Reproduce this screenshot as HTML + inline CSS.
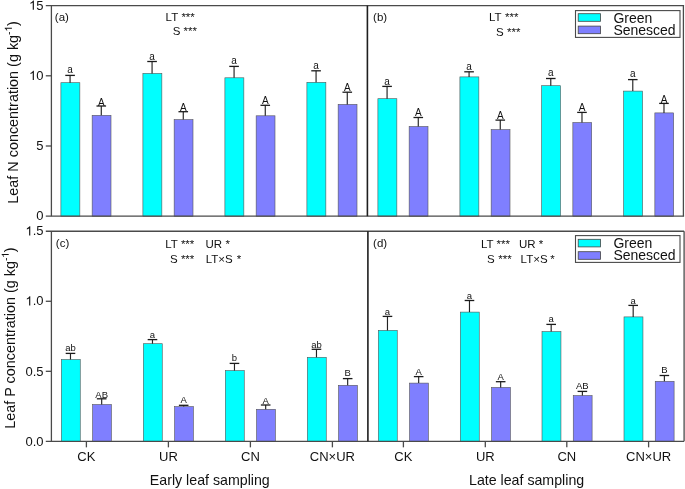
<!DOCTYPE html>
<html><head><meta charset="utf-8"><style>
html,body{margin:0;padding:0;background:#fff;}
body{width:685px;height:489px;overflow:hidden;font-family:"Liberation Sans",sans-serif;}
svg{display:block;will-change:transform;}
</style></head><body>
<svg width="685" height="489" viewBox="0 0 685 489">
<rect width="685" height="489" fill="#ffffff"/>
<g font-family="Liberation Sans, sans-serif" fill="#111">
<rect x="60.90" y="82.70" width="18.95" height="133.50" fill="#00ffff" stroke="#555" stroke-width="0.6"/>
<line x1="70.08" y1="75.4" x2="70.08" y2="82.7" stroke="#222" stroke-width="1.15"/>
<line x1="65.28" y1="75.4" x2="74.88" y2="75.4" stroke="#1a1a1a" stroke-width="1.3"/>
<text transform="translate(70.08,72.9) scale(1.0,1)" font-size="10" text-anchor="middle">a</text>
<rect x="92.15" y="115.30" width="18.85" height="100.90" fill="#7f7fff" stroke="#555" stroke-width="0.6"/>
<line x1="101.28" y1="106.0" x2="101.28" y2="115.3" stroke="#222" stroke-width="1.15"/>
<line x1="96.48" y1="106.0" x2="106.08" y2="106.0" stroke="#1a1a1a" stroke-width="1.3"/>
<text transform="translate(101.28,105.6) scale(1.0,1)" font-size="10" text-anchor="middle">A</text>
<rect x="142.90" y="73.40" width="18.95" height="142.80" fill="#00ffff" stroke="#555" stroke-width="0.6"/>
<line x1="152.07" y1="61.5" x2="152.07" y2="73.4" stroke="#222" stroke-width="1.15"/>
<line x1="147.27" y1="61.5" x2="156.88" y2="61.5" stroke="#1a1a1a" stroke-width="1.3"/>
<text transform="translate(152.07,60.0) scale(1.0,1)" font-size="10" text-anchor="middle">a</text>
<rect x="174.15" y="119.60" width="18.85" height="96.60" fill="#7f7fff" stroke="#555" stroke-width="0.6"/>
<line x1="183.27" y1="111.7" x2="183.27" y2="119.6" stroke="#222" stroke-width="1.15"/>
<line x1="178.47" y1="111.7" x2="188.07" y2="111.7" stroke="#1a1a1a" stroke-width="1.3"/>
<text transform="translate(183.27,111.0) scale(1.0,1)" font-size="10" text-anchor="middle">A</text>
<rect x="224.90" y="77.80" width="18.95" height="138.40" fill="#00ffff" stroke="#555" stroke-width="0.6"/>
<line x1="234.07" y1="66.4" x2="234.07" y2="77.8" stroke="#222" stroke-width="1.15"/>
<line x1="229.27" y1="66.4" x2="238.88" y2="66.4" stroke="#1a1a1a" stroke-width="1.3"/>
<text transform="translate(234.07,64.2) scale(1.0,1)" font-size="10" text-anchor="middle">a</text>
<rect x="256.15" y="115.80" width="18.85" height="100.40" fill="#7f7fff" stroke="#555" stroke-width="0.6"/>
<line x1="265.27" y1="105.3" x2="265.27" y2="115.8" stroke="#222" stroke-width="1.15"/>
<line x1="260.47" y1="105.3" x2="270.07" y2="105.3" stroke="#1a1a1a" stroke-width="1.3"/>
<text transform="translate(265.27,104.3) scale(1.0,1)" font-size="10" text-anchor="middle">A</text>
<rect x="306.90" y="82.30" width="18.95" height="133.90" fill="#00ffff" stroke="#555" stroke-width="0.6"/>
<line x1="316.07" y1="70.8" x2="316.07" y2="82.3" stroke="#222" stroke-width="1.15"/>
<line x1="311.27" y1="70.8" x2="320.88" y2="70.8" stroke="#1a1a1a" stroke-width="1.3"/>
<text transform="translate(316.07,68.6) scale(1.0,1)" font-size="10" text-anchor="middle">a</text>
<rect x="338.15" y="104.40" width="18.85" height="111.80" fill="#7f7fff" stroke="#555" stroke-width="0.6"/>
<line x1="347.27" y1="92.2" x2="347.27" y2="104.4" stroke="#222" stroke-width="1.15"/>
<line x1="342.47" y1="92.2" x2="352.07" y2="92.2" stroke="#1a1a1a" stroke-width="1.3"/>
<text transform="translate(347.27,91.0) scale(1.0,1)" font-size="10" text-anchor="middle">A</text>
<rect x="377.90" y="98.70" width="18.95" height="117.50" fill="#00ffff" stroke="#555" stroke-width="0.6"/>
<line x1="387.07" y1="86.4" x2="387.07" y2="98.7" stroke="#222" stroke-width="1.15"/>
<line x1="382.27" y1="86.4" x2="391.88" y2="86.4" stroke="#1a1a1a" stroke-width="1.3"/>
<text transform="translate(387.07,84.6) scale(1.0,1)" font-size="10" text-anchor="middle">a</text>
<rect x="409.15" y="126.50" width="18.85" height="89.70" fill="#7f7fff" stroke="#555" stroke-width="0.6"/>
<line x1="418.27" y1="117.5" x2="418.27" y2="126.5" stroke="#222" stroke-width="1.15"/>
<line x1="413.47" y1="117.5" x2="423.07" y2="117.5" stroke="#1a1a1a" stroke-width="1.3"/>
<text transform="translate(418.27,116.3) scale(1.0,1)" font-size="10" text-anchor="middle">A</text>
<rect x="459.90" y="76.90" width="18.95" height="139.30" fill="#00ffff" stroke="#555" stroke-width="0.6"/>
<line x1="469.07" y1="71.8" x2="469.07" y2="76.9" stroke="#222" stroke-width="1.15"/>
<line x1="464.27" y1="71.8" x2="473.88" y2="71.8" stroke="#1a1a1a" stroke-width="1.3"/>
<text transform="translate(469.07,70.0) scale(1.0,1)" font-size="10" text-anchor="middle">a</text>
<rect x="491.15" y="129.60" width="18.85" height="86.60" fill="#7f7fff" stroke="#555" stroke-width="0.6"/>
<line x1="500.27" y1="120.1" x2="500.27" y2="129.6" stroke="#222" stroke-width="1.15"/>
<line x1="495.47" y1="120.1" x2="505.07" y2="120.1" stroke="#1a1a1a" stroke-width="1.3"/>
<text transform="translate(500.27,118.8) scale(1.0,1)" font-size="10" text-anchor="middle">A</text>
<rect x="541.60" y="85.70" width="18.95" height="130.50" fill="#00ffff" stroke="#555" stroke-width="0.6"/>
<line x1="550.78" y1="78.5" x2="550.78" y2="85.7" stroke="#222" stroke-width="1.15"/>
<line x1="545.98" y1="78.5" x2="555.58" y2="78.5" stroke="#1a1a1a" stroke-width="1.3"/>
<text transform="translate(550.78,76.3) scale(1.0,1)" font-size="10" text-anchor="middle">a</text>
<rect x="572.85" y="122.50" width="18.85" height="93.70" fill="#7f7fff" stroke="#555" stroke-width="0.6"/>
<line x1="581.98" y1="112.4" x2="581.98" y2="122.5" stroke="#222" stroke-width="1.15"/>
<line x1="577.18" y1="112.4" x2="586.78" y2="112.4" stroke="#1a1a1a" stroke-width="1.3"/>
<text transform="translate(581.98,111.0) scale(1.0,1)" font-size="10" text-anchor="middle">A</text>
<rect x="623.60" y="91.10" width="18.95" height="125.10" fill="#00ffff" stroke="#555" stroke-width="0.6"/>
<line x1="632.78" y1="79.6" x2="632.78" y2="91.1" stroke="#222" stroke-width="1.15"/>
<line x1="627.98" y1="79.6" x2="637.58" y2="79.6" stroke="#1a1a1a" stroke-width="1.3"/>
<text transform="translate(632.78,77.4) scale(1.0,1)" font-size="10" text-anchor="middle">a</text>
<rect x="654.85" y="112.90" width="18.85" height="103.30" fill="#7f7fff" stroke="#555" stroke-width="0.6"/>
<line x1="663.98" y1="103.4" x2="663.98" y2="112.9" stroke="#222" stroke-width="1.15"/>
<line x1="659.18" y1="103.4" x2="668.78" y2="103.4" stroke="#1a1a1a" stroke-width="1.3"/>
<text transform="translate(663.98,102.5) scale(1.0,1)" font-size="10" text-anchor="middle">A</text>
<rect x="61.30" y="359.50" width="18.95" height="81.85" fill="#00ffff" stroke="#555" stroke-width="0.6"/>
<line x1="70.48" y1="353.4" x2="70.48" y2="359.5" stroke="#222" stroke-width="1.15"/>
<line x1="65.68" y1="353.4" x2="75.28" y2="353.4" stroke="#1a1a1a" stroke-width="1.3"/>
<text transform="translate(70.48,351.2) scale(1.0,1)" font-size="9.5" text-anchor="middle">ab</text>
<rect x="92.55" y="404.50" width="18.85" height="36.85" fill="#7f7fff" stroke="#555" stroke-width="0.6"/>
<line x1="101.68" y1="398.8" x2="101.68" y2="404.5" stroke="#222" stroke-width="1.15"/>
<line x1="96.88" y1="398.8" x2="106.48" y2="398.8" stroke="#1a1a1a" stroke-width="1.3"/>
<text transform="translate(101.68,397.6) scale(1.0,1)" font-size="9.5" text-anchor="middle">AB</text>
<rect x="143.30" y="343.70" width="18.95" height="97.65" fill="#00ffff" stroke="#555" stroke-width="0.6"/>
<line x1="152.47" y1="339.6" x2="152.47" y2="343.7" stroke="#222" stroke-width="1.15"/>
<line x1="147.67" y1="339.6" x2="157.28" y2="339.6" stroke="#1a1a1a" stroke-width="1.3"/>
<text transform="translate(152.47,337.9) scale(1.0,1)" font-size="9.5" text-anchor="middle">a</text>
<rect x="174.55" y="406.60" width="18.85" height="34.75" fill="#7f7fff" stroke="#555" stroke-width="0.6"/>
<line x1="183.68" y1="405.3" x2="183.68" y2="406.6" stroke="#222" stroke-width="1.15"/>
<line x1="178.88" y1="405.3" x2="188.48" y2="405.3" stroke="#1a1a1a" stroke-width="1.3"/>
<text transform="translate(183.68,402.9) scale(1.0,1)" font-size="9.5" text-anchor="middle">A</text>
<rect x="225.30" y="370.60" width="18.95" height="70.75" fill="#00ffff" stroke="#555" stroke-width="0.6"/>
<line x1="234.47" y1="363.4" x2="234.47" y2="370.6" stroke="#222" stroke-width="1.15"/>
<line x1="229.67" y1="363.4" x2="239.28" y2="363.4" stroke="#1a1a1a" stroke-width="1.3"/>
<text transform="translate(234.47,361.4) scale(1.0,1)" font-size="9.5" text-anchor="middle">b</text>
<rect x="256.55" y="409.30" width="18.85" height="32.05" fill="#7f7fff" stroke="#555" stroke-width="0.6"/>
<line x1="265.68" y1="405.0" x2="265.68" y2="409.3" stroke="#222" stroke-width="1.15"/>
<line x1="260.88" y1="405.0" x2="270.48" y2="405.0" stroke="#1a1a1a" stroke-width="1.3"/>
<text transform="translate(265.68,403.6) scale(1.0,1)" font-size="9.5" text-anchor="middle">A</text>
<rect x="307.30" y="357.30" width="18.95" height="84.05" fill="#00ffff" stroke="#555" stroke-width="0.6"/>
<line x1="316.47" y1="349.3" x2="316.47" y2="357.3" stroke="#222" stroke-width="1.15"/>
<line x1="311.67" y1="349.3" x2="321.27" y2="349.3" stroke="#1a1a1a" stroke-width="1.3"/>
<text transform="translate(316.47,347.7) scale(1.0,1)" font-size="9.5" text-anchor="middle">ab</text>
<rect x="338.55" y="385.30" width="18.85" height="56.05" fill="#7f7fff" stroke="#555" stroke-width="0.6"/>
<line x1="347.67" y1="378.6" x2="347.67" y2="385.3" stroke="#222" stroke-width="1.15"/>
<line x1="342.87" y1="378.6" x2="352.47" y2="378.6" stroke="#1a1a1a" stroke-width="1.3"/>
<text transform="translate(347.67,376.4) scale(1.0,1)" font-size="9.5" text-anchor="middle">B</text>
<rect x="378.30" y="330.40" width="18.95" height="110.95" fill="#00ffff" stroke="#555" stroke-width="0.6"/>
<line x1="387.47" y1="316.4" x2="387.47" y2="330.4" stroke="#222" stroke-width="1.15"/>
<line x1="382.67" y1="316.4" x2="392.27" y2="316.4" stroke="#1a1a1a" stroke-width="1.3"/>
<text transform="translate(387.47,314.8) scale(1.0,1)" font-size="9.5" text-anchor="middle">a</text>
<rect x="409.55" y="383.10" width="18.85" height="58.25" fill="#7f7fff" stroke="#555" stroke-width="0.6"/>
<line x1="418.67" y1="376.6" x2="418.67" y2="383.1" stroke="#222" stroke-width="1.15"/>
<line x1="413.87" y1="376.6" x2="423.47" y2="376.6" stroke="#1a1a1a" stroke-width="1.3"/>
<text transform="translate(418.67,374.5) scale(1.0,1)" font-size="9.5" text-anchor="middle">A</text>
<rect x="460.30" y="312.10" width="18.95" height="129.25" fill="#00ffff" stroke="#555" stroke-width="0.6"/>
<line x1="469.47" y1="300.5" x2="469.47" y2="312.1" stroke="#222" stroke-width="1.15"/>
<line x1="464.67" y1="300.5" x2="474.27" y2="300.5" stroke="#1a1a1a" stroke-width="1.3"/>
<text transform="translate(469.47,298.8) scale(1.0,1)" font-size="9.5" text-anchor="middle">a</text>
<rect x="491.55" y="387.40" width="18.85" height="53.95" fill="#7f7fff" stroke="#555" stroke-width="0.6"/>
<line x1="500.67" y1="381.7" x2="500.67" y2="387.4" stroke="#222" stroke-width="1.15"/>
<line x1="495.87" y1="381.7" x2="505.47" y2="381.7" stroke="#1a1a1a" stroke-width="1.3"/>
<text transform="translate(500.67,379.6) scale(1.0,1)" font-size="9.5" text-anchor="middle">A</text>
<rect x="542.00" y="331.60" width="18.95" height="109.75" fill="#00ffff" stroke="#555" stroke-width="0.6"/>
<line x1="551.18" y1="324.4" x2="551.18" y2="331.6" stroke="#222" stroke-width="1.15"/>
<line x1="546.38" y1="324.4" x2="555.98" y2="324.4" stroke="#1a1a1a" stroke-width="1.3"/>
<text transform="translate(551.18,322.2) scale(1.0,1)" font-size="9.5" text-anchor="middle">a</text>
<rect x="573.25" y="395.60" width="18.85" height="45.75" fill="#7f7fff" stroke="#555" stroke-width="0.6"/>
<line x1="582.38" y1="391.4" x2="582.38" y2="395.6" stroke="#222" stroke-width="1.15"/>
<line x1="577.58" y1="391.4" x2="587.17" y2="391.4" stroke="#1a1a1a" stroke-width="1.3"/>
<text transform="translate(582.38,388.7) scale(1.0,1)" font-size="9.5" text-anchor="middle">AB</text>
<rect x="624.00" y="316.90" width="18.95" height="124.45" fill="#00ffff" stroke="#555" stroke-width="0.6"/>
<line x1="633.18" y1="305.4" x2="633.18" y2="316.9" stroke="#222" stroke-width="1.15"/>
<line x1="628.38" y1="305.4" x2="637.98" y2="305.4" stroke="#1a1a1a" stroke-width="1.3"/>
<text transform="translate(633.18,303.7) scale(1.0,1)" font-size="9.5" text-anchor="middle">a</text>
<rect x="655.25" y="381.30" width="18.85" height="60.05" fill="#7f7fff" stroke="#555" stroke-width="0.6"/>
<line x1="664.38" y1="375.5" x2="664.38" y2="381.3" stroke="#222" stroke-width="1.15"/>
<line x1="659.58" y1="375.5" x2="669.17" y2="375.5" stroke="#1a1a1a" stroke-width="1.3"/>
<text transform="translate(664.38,373.3) scale(1.0,1)" font-size="9.5" text-anchor="middle">B</text>
<line x1="45.8" y1="5.6" x2="684.1" y2="5.6" stroke="#4a4a4a" stroke-width="1.3"/>
<line x1="45.8" y1="216.2" x2="684.1" y2="216.2" stroke="#4a4a4a" stroke-width="1.3"/>
<line x1="51.4" y1="5.6" x2="51.4" y2="216.2" stroke="#4a4a4a" stroke-width="1.3"/>
<line x1="683.4" y1="5.6" x2="683.4" y2="216.2" stroke="#4a4a4a" stroke-width="1.3"/>
<line x1="367.4" y1="5.6" x2="367.4" y2="216.2" stroke="#1e1e1e" stroke-width="1.6"/>
<line x1="45.8" y1="231.25" x2="684.1" y2="231.25" stroke="#4a4a4a" stroke-width="1.3"/>
<line x1="45.8" y1="441.35" x2="684.1" y2="441.35" stroke="#4a4a4a" stroke-width="1.3"/>
<line x1="51.4" y1="231.25" x2="51.4" y2="441.35" stroke="#4a4a4a" stroke-width="1.3"/>
<line x1="684.1" y1="231.25" x2="684.1" y2="441.35" stroke="#4a4a4a" stroke-width="1.3"/>
<line x1="367.9" y1="231.25" x2="367.9" y2="441.35" stroke="#1e1e1e" stroke-width="1.6"/>
<line x1="45.8" y1="146.0" x2="51.4" y2="146.0" stroke="#4a4a4a" stroke-width="1.3"/>
<line x1="45.8" y1="75.8" x2="51.4" y2="75.8" stroke="#4a4a4a" stroke-width="1.3"/>
<text x="36.27" y="220.4" font-size="13">0</text>
<text x="36.27" y="150.2" font-size="13">5</text>
<path transform="translate(29.04,80.0) scale(0.006348,-0.006348)" d="M763 0H583V1147Q518 1085 412.5 1023Q307 961 223 930V1104Q374 1175 487 1276Q600 1377 647 1466H763Z"/>
<text x="36.27" y="80.0" font-size="13">0</text>
<path transform="translate(29.04,9.8) scale(0.006348,-0.006348)" d="M763 0H583V1147Q518 1085 412.5 1023Q307 961 223 930V1104Q374 1175 487 1276Q600 1377 647 1466H763Z"/>
<text x="36.27" y="9.8" font-size="13">5</text>
<line x1="45.8" y1="371.32" x2="51.4" y2="371.32" stroke="#4a4a4a" stroke-width="1.3"/>
<line x1="45.8" y1="301.28" x2="51.4" y2="301.28" stroke="#4a4a4a" stroke-width="1.3"/>
<text x="25.43" y="445.55" font-size="13">0</text>
<text x="32.66" y="445.55" font-size="13">.</text>
<text x="36.27" y="445.55" font-size="13">0</text>
<text x="25.43" y="375.52" font-size="13">0</text>
<text x="32.66" y="375.52" font-size="13">.</text>
<text x="36.27" y="375.52" font-size="13">5</text>
<path transform="translate(25.43,305.48) scale(0.006348,-0.006348)" d="M763 0H583V1147Q518 1085 412.5 1023Q307 961 223 930V1104Q374 1175 487 1276Q600 1377 647 1466H763Z"/>
<text x="32.66" y="305.48" font-size="13">.</text>
<text x="36.27" y="305.48" font-size="13">0</text>
<path transform="translate(25.43,235.45) scale(0.006348,-0.006348)" d="M763 0H583V1147Q518 1085 412.5 1023Q307 961 223 930V1104Q374 1175 487 1276Q600 1377 647 1466H763Z"/>
<text x="32.66" y="235.45" font-size="13">.</text>
<text x="36.27" y="235.45" font-size="13">5</text>
<line x1="86.4" y1="441.35" x2="86.4" y2="447.35" stroke="#4a4a4a" stroke-width="1.3"/>
<text x="86.4" y="461.2" font-size="13" text-anchor="middle" >CK</text>
<line x1="168.4" y1="441.35" x2="168.4" y2="447.35" stroke="#4a4a4a" stroke-width="1.3"/>
<text x="168.4" y="461.2" font-size="13" text-anchor="middle" >UR</text>
<line x1="250.4" y1="441.35" x2="250.4" y2="447.35" stroke="#4a4a4a" stroke-width="1.3"/>
<text x="250.4" y="461.2" font-size="13" text-anchor="middle" >CN</text>
<line x1="332.4" y1="441.35" x2="332.4" y2="447.35" stroke="#4a4a4a" stroke-width="1.3"/>
<text x="332.4" y="461.2" font-size="13" text-anchor="middle" >CN×UR</text>
<line x1="403.4" y1="441.35" x2="403.4" y2="447.35" stroke="#4a4a4a" stroke-width="1.3"/>
<text x="403.4" y="461.2" font-size="13" text-anchor="middle" >CK</text>
<line x1="485.3" y1="441.35" x2="485.3" y2="447.35" stroke="#4a4a4a" stroke-width="1.3"/>
<text x="485.3" y="461.2" font-size="13" text-anchor="middle" >UR</text>
<line x1="566.8" y1="441.35" x2="566.8" y2="447.35" stroke="#4a4a4a" stroke-width="1.3"/>
<text x="566.8" y="461.2" font-size="13" text-anchor="middle" >CN</text>
<line x1="648.6" y1="441.35" x2="648.6" y2="447.35" stroke="#4a4a4a" stroke-width="1.3"/>
<text x="648.6" y="461.2" font-size="13" text-anchor="middle" >CN×UR</text>
<text x="209.8" y="484.9" font-size="14.2" text-anchor="middle" >Early leaf sampling</text>
<text x="526.6" y="485.1" font-size="14.2" text-anchor="middle" >Late leaf sampling</text>
<g transform="translate(18.2,203.7) rotate(-90)"><text font-size="14.4">Leaf N concentration (g kg<tspan dy="-6.3" font-size="10">-</tspan><tspan dx="5.56" dy="6.3">)</tspan></text><path transform="translate(172.13,-6.3) scale(0.004883,-0.004883)" d="M763 0H583V1147Q518 1085 412.5 1023Q307 961 223 930V1104Q374 1175 487 1276Q600 1377 647 1466H763Z"/></g>
<g transform="translate(15.0,428.8) rotate(-90)"><text font-size="14.4">Leaf P concentration (g kg<tspan dy="-6.3" font-size="10">-</tspan><tspan dx="5.56" dy="6.3">)</tspan></text><path transform="translate(171.06,-6.3) scale(0.004883,-0.004883)" d="M763 0H583V1147Q518 1085 412.5 1023Q307 961 223 930V1104Q374 1175 487 1276Q600 1377 647 1466H763Z"/></g>
<text x="54.8" y="21.0" font-size="11.5" text-anchor="start" >(a)</text>
<text x="373.1" y="21.0" font-size="11.5" text-anchor="start" >(b)</text>
<text x="55.8" y="247.3" font-size="11.5" text-anchor="start" >(c)</text>
<text x="373.1" y="247.3" font-size="11.5" text-anchor="start" >(d)</text>
<text x="165.6" y="20.8" font-size="11.5" text-anchor="start" >LT</text>
<text x="181.4" y="20.8" font-size="11.5" text-anchor="start" >***</text>
<text x="172.7" y="35.4" font-size="11.5" text-anchor="start" >S</text>
<text x="183.6" y="35.4" font-size="11.5" text-anchor="start" >***</text>
<text x="488.9" y="21.0" font-size="11.5" text-anchor="start" >LT</text>
<text x="505.1" y="21.0" font-size="11.5" text-anchor="start" >***</text>
<text x="495.9" y="35.7" font-size="11.5" text-anchor="start" >S</text>
<text x="507.0" y="35.7" font-size="11.5" text-anchor="start" >***</text>
<text x="165.3" y="248.1" font-size="11.5" text-anchor="start" >LT</text>
<text x="180.9" y="248.1" font-size="11.5" text-anchor="start" >***</text>
<text x="205.4" y="248.1" font-size="11.5" text-anchor="start" >UR</text>
<text x="225.6" y="248.1" font-size="11.5" text-anchor="start" >*</text>
<text x="169.9" y="263.3" font-size="11.5" text-anchor="start" >S</text>
<text x="180.9" y="263.3" font-size="11.5" text-anchor="start" >***</text>
<text x="205.7" y="263.3" font-size="11.5" text-anchor="start" >LT×S</text>
<text x="236.8" y="263.3" font-size="11.5" text-anchor="start" >*</text>
<text x="480.9" y="247.6" font-size="11.5" text-anchor="start" >LT</text>
<text x="496.6" y="247.6" font-size="11.5" text-anchor="start" >***</text>
<text x="519.0" y="247.6" font-size="11.5" text-anchor="start" >UR</text>
<text x="538.7" y="247.6" font-size="11.5" text-anchor="start" >*</text>
<text x="487.0" y="262.5" font-size="11.5" text-anchor="start" >S</text>
<text x="498.2" y="262.5" font-size="11.5" text-anchor="start" >***</text>
<text x="520.6" y="262.5" font-size="11.5" text-anchor="start" >LT×S</text>
<text x="550.3" y="262.5" font-size="11.5" text-anchor="start" >*</text>
<rect x="575.5" y="10.6" width="104.5" height="26.8" fill="#fff" stroke="#4a4a4a" stroke-width="1.1"/>
<rect x="578.2" y="13.7" width="22.3" height="7.6" fill="#00ffff" stroke="#444" stroke-width="0.8"/>
<rect x="578.2" y="26.1" width="22.3" height="7.6" fill="#7f7fff" stroke="#444" stroke-width="0.8"/>
<text x="613.4" y="22.8" font-size="14" text-anchor="start" >Green</text>
<text x="613.4" y="35.0" font-size="14" text-anchor="start" >Senesced</text>
<rect x="575.5" y="235.6" width="104.5" height="26.8" fill="#fff" stroke="#4a4a4a" stroke-width="1.1"/>
<rect x="578.2" y="239.29999999999998" width="22.3" height="7.6" fill="#00ffff" stroke="#444" stroke-width="0.8"/>
<rect x="578.2" y="251.7" width="22.3" height="7.6" fill="#7f7fff" stroke="#444" stroke-width="0.8"/>
<text x="613.4" y="247.8" font-size="14" text-anchor="start" >Green</text>
<text x="613.4" y="260.0" font-size="14" text-anchor="start" >Senesced</text>
</g></svg>
</body></html>
